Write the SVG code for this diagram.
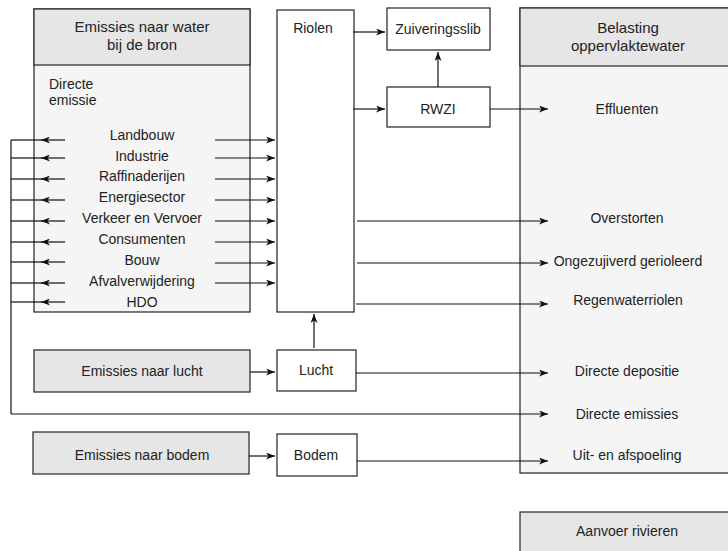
<svg xmlns="http://www.w3.org/2000/svg" width="728" height="551" viewBox="0 0 728 551">
<style>
.box{fill:#ffffff;stroke:#333;stroke-width:1.3}
.hdr{fill:#e6e6e6;stroke:#333;stroke-width:1.3}
.body{fill:#f5f5f5;stroke:#333;stroke-width:1.3}
text{font-family:"Liberation Sans",Arial,sans-serif;font-size:14px;fill:#222}
.c{text-anchor:middle}
.h{font-size:15px}
.ln{stroke:#111;stroke-width:1.2;fill:none}
</style>
<defs>
<marker id="ah" viewBox="0 0 9 7" refX="9" refY="3.5" markerWidth="9" markerHeight="7" markerUnits="userSpaceOnUse" orient="auto">
<path d="M0,0 L9,3.5 L0,7 L2.5,3.5 z" fill="#111"/>
</marker>
</defs>

<g id="bron">
<rect class="body" x="34" y="9" width="216" height="303"/>
<rect class="hdr" x="34" y="9" width="216" height="56"/>
<text class="c h" x="142" y="32">Emissies naar water</text>
<text class="c h" x="142" y="50">bij de bron</text>
<text x="49" y="89">Directe</text>
<text x="49" y="105">emissie</text>
<text class="c" x="142" y="140">Landbouw</text>
<text class="c" x="142" y="161">Industrie</text>
<text class="c" x="142" y="181">Raffinaderijen</text>
<text class="c" x="142" y="202">Energiesector</text>
<text class="c" x="142" y="223">Verkeer en Vervoer</text>
<text class="c" x="142" y="244">Consumenten</text>
<text class="c" x="142" y="265">Bouw</text>
<text class="c" x="142" y="286">Afvalverwijdering</text>
<text class="c" x="142" y="307">HDO</text>
</g>

<g id="belasting">
<rect class="body" x="520" y="8" width="216" height="465"/>
<rect class="hdr" x="520" y="8" width="216" height="58"/>
<text class="c h" x="628" y="33">Belasting</text>
<text class="c h" x="628" y="51">oppervlaktewater</text>
<text class="c" x="627" y="114">Effluenten</text>
<text class="c" x="627" y="223">Overstorten</text>
<text class="c" x="628" y="266">Ongezujiverd gerioleerd</text>
<text class="c" x="628" y="305">Regenwaterriolen</text>
<text class="c" x="627" y="376">Directe depositie</text>
<text class="c" x="627" y="419">Directe emissies</text>
<text class="c" x="627" y="460">Uit- en afspoeling</text>
</g>

<g id="riolen">
<rect class="box" x="277" y="10" width="77" height="302"/>
<text class="c" x="313" y="33">Riolen</text>
</g>

<g id="zuiveringsslib">
<rect class="box" x="387" y="8" width="103" height="42"/>
<text class="c" x="438" y="34">Zuiveringsslib</text>
</g>

<g id="rwzi">
<rect class="box" x="387" y="87" width="103" height="40"/>
<text class="c" x="438" y="114">RWZI</text>
</g>

<g id="emissies-lucht">
<rect class="hdr" x="34" y="350" width="216" height="42"/>
<text class="c" x="142" y="376">Emissies naar lucht</text>
</g>

<g id="lucht">
<rect class="box" x="277" y="350" width="79" height="41"/>
<text class="c" x="316" y="375">Lucht</text>
</g>

<g id="emissies-bodem">
<rect class="hdr" x="33" y="432" width="216" height="42"/>
<text class="c" x="142" y="460">Emissies naar bodem</text>
</g>

<g id="bodem">
<rect class="box" x="277" y="434" width="80" height="42"/>
<text class="c" x="316" y="460">Bodem</text>
</g>

<g id="aanvoer">
<rect class="hdr" x="520" y="512" width="216" height="50"/>
<text class="c" x="627" y="536">Aanvoer rivieren</text>
</g>

<g id="connectors">
<!-- bus to directe emissies -->
<path class="ln" d="M11,140 V414"/>
<path class="ln" d="M11,414 H548" marker-end="url(#ah)"/>
<!-- left arrows -->
<path class="ln" d="M11,140 H42"/><path class="ln" d="M65,140 H41" marker-end="url(#ah)"/>
<path class="ln" d="M11,158 H42"/><path class="ln" d="M65,158 H41" marker-end="url(#ah)"/>
<path class="ln" d="M11,179 H42"/><path class="ln" d="M65,179 H41" marker-end="url(#ah)"/>
<path class="ln" d="M11,200 H42"/><path class="ln" d="M65,200 H41" marker-end="url(#ah)"/>
<path class="ln" d="M11,221 H42"/><path class="ln" d="M65,221 H41" marker-end="url(#ah)"/>
<path class="ln" d="M11,242 H42"/><path class="ln" d="M65,242 H41" marker-end="url(#ah)"/>
<path class="ln" d="M11,262 H42"/><path class="ln" d="M65,262 H41" marker-end="url(#ah)"/>
<path class="ln" d="M11,283 H42"/><path class="ln" d="M65,283 H41" marker-end="url(#ah)"/>
<path class="ln" d="M11,302 H42"/><path class="ln" d="M65,302 H41" marker-end="url(#ah)"/>
<!-- right arrows into riolen -->
<path class="ln" d="M215,140 H275" marker-end="url(#ah)"/>
<path class="ln" d="M215,158 H275" marker-end="url(#ah)"/>
<path class="ln" d="M215,179 H275" marker-end="url(#ah)"/>
<path class="ln" d="M215,200 H275" marker-end="url(#ah)"/>
<path class="ln" d="M215,221 H275" marker-end="url(#ah)"/>
<path class="ln" d="M215,242 H275" marker-end="url(#ah)"/>
<path class="ln" d="M215,263 H275" marker-end="url(#ah)"/>
<path class="ln" d="M215,283 H275" marker-end="url(#ah)"/>
<!-- riolen outputs -->
<path class="ln" d="M353,32 H385" marker-end="url(#ah)"/>
<path class="ln" d="M353,109 H385" marker-end="url(#ah)"/>
<path class="ln" d="M438,87 V52" marker-end="url(#ah)"/>
<path class="ln" d="M490,109 H548" marker-end="url(#ah)"/>
<path class="ln" d="M357,221 H548" marker-end="url(#ah)"/>
<path class="ln" d="M357,263 H548" marker-end="url(#ah)"/>
<path class="ln" d="M356,304 H548" marker-end="url(#ah)"/>
<!-- lucht -->
<path class="ln" d="M250,372 H275" marker-end="url(#ah)"/>
<path class="ln" d="M314,348 V314" marker-end="url(#ah)"/>
<path class="ln" d="M356,373 H548" marker-end="url(#ah)"/>
<!-- bodem -->
<path class="ln" d="M249,456 H275" marker-end="url(#ah)"/>
<path class="ln" d="M357,461 H548" marker-end="url(#ah)"/>
</g>
</svg>
